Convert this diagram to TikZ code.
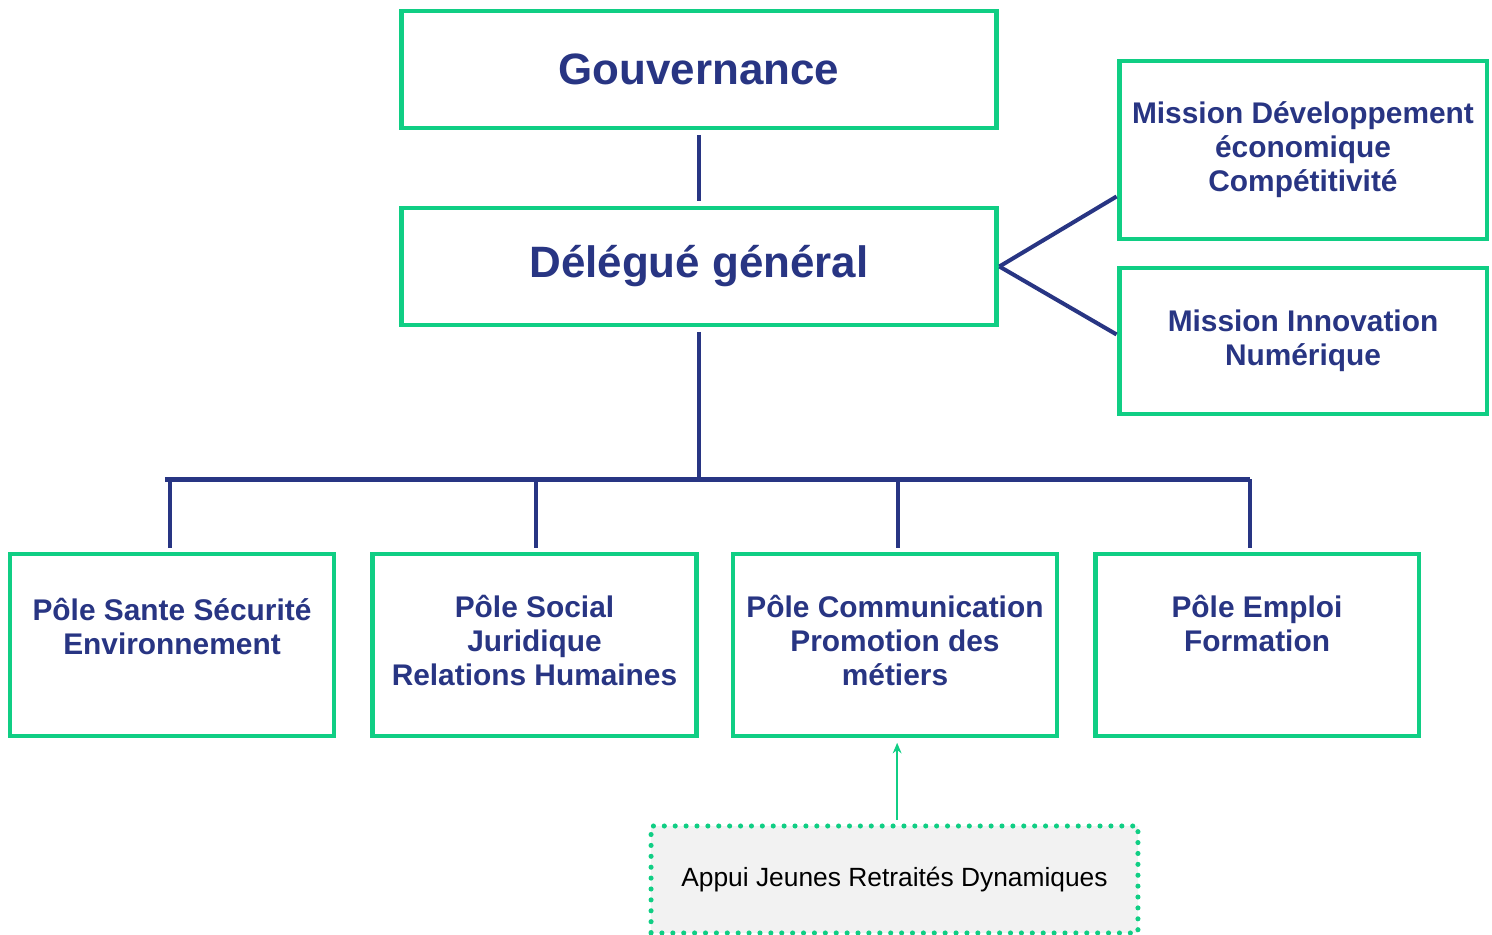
\documentclass[tikz,border=0pt]{standalone}
\usepackage{fontspec}
\setmainfont{Liberation Sans}
\usepackage{xcolor}
\usetikzlibrary{arrows.meta}
\definecolor{vert}{RGB}{16,206,132}
\definecolor{marine}{RGB}{40,53,131}
\definecolor{fond}{RGB}{242,242,242}

\begin{document}
\begin{tikzpicture}[x=0.02cm, y=-0.02cm,
	cadre/.style={draw=vert, line width=2.8pt, inner sep=0pt},
	titre/.style={text=marine, font=\bfseries\fontsize{25}{30}\selectfont},
	texte/.style={text=marine, align=center, inner sep=0pt, font=\bfseries\fontsize{17}{19.3}\selectfont},
	lien/.style={draw=marine, line width=2.3pt},
	appui/.style={draw=vert, fill=fond, line width=2.9pt, line cap=round, dash pattern=on 0pt off 6.2pt,
		minimum width=9.74cm, minimum height=2.14cm, font=\fontsize{15}{18}\selectfont}]
	\useasboundingbox (0,0) rectangle (1492,935);
	% gouvernance et delegue
	\node[cadre, titre, minimum width=11.92cm, minimum height=2.34cm] (gouv) at (699,69.5) {Gouvernance};
	\node[cadre, titre, minimum width=11.92cm, minimum height=2.34cm] (deleg) at (699,266.5) {Délégué général};
	% missions
	\node[cadre, texte, minimum width=7.36cm, minimum height=3.56cm] (mdev) at (1303,150)
		{Mission Développement\\économique\\Compétitivité};
	\node[cadre, texte, minimum width=7.36cm, minimum height=2.92cm] (minno) at (1303,341)
		{Mission Innovation\\Numérique};
	% poles
	\foreach \n/\x in {1/172, 2/534.5, 3/895, 4/1257}
	{
		\node[cadre, minimum width=6.48cm, minimum height=3.64cm] (p\n) at (\x,645) {};
	}
	\node[texte, anchor=north] (t1) at (172,598) {Pôle Sante Sécurité\\Environnement};
	\node[texte, anchor=north] (t2) at (534.5,595) {Pôle Social\\Juridique\\Relations Humaines};
	\node[texte, anchor=north] (t3) at (895,595) {Pôle Communication\\Promotion des\\métiers};
	\node[texte, anchor=north] (t4) at (1257,595) {Pôle Emploi\\Formation};
	\node[appui] (ajrd) at (894.5,879.5) {Appui Jeunes Retraités Dynamiques};
	% liens
	\coordinate (bus) at (699,479.5);
	\draw[lien, shorten <=2.5pt, shorten >=2.5pt] (gouv.south) -- (deleg.north);
	\draw[lien] (deleg.east) -- (mdev.194);
	\draw[lien] (deleg.east) -- (minno.178);
	\draw[lien, shorten <=2.5pt] (deleg.south) -- (bus);
	\draw[lien] ([xshift=-4pt]p1.north |- bus) -- ([xshift=-4pt]p4.north |- bus);
	\foreach \p/\dx in {p1/-1pt, p2/1pt, p3/1.5pt, p4/-4pt}
	{
		\draw[lien, shorten >=2pt] ([xshift=\dx]\p.north |- bus) -- ([xshift=\dx]\p.north);
	}
	\draw[vert, line width=0.9pt, -{Stealth[length=6pt, width=5pt]}, shorten <=2pt, shorten >=2.5pt]
		([xshift=1.5pt]ajrd.north) -- ([xshift=1.5pt]ajrd.north |- p3.south);
\end{tikzpicture}
\end{document}
